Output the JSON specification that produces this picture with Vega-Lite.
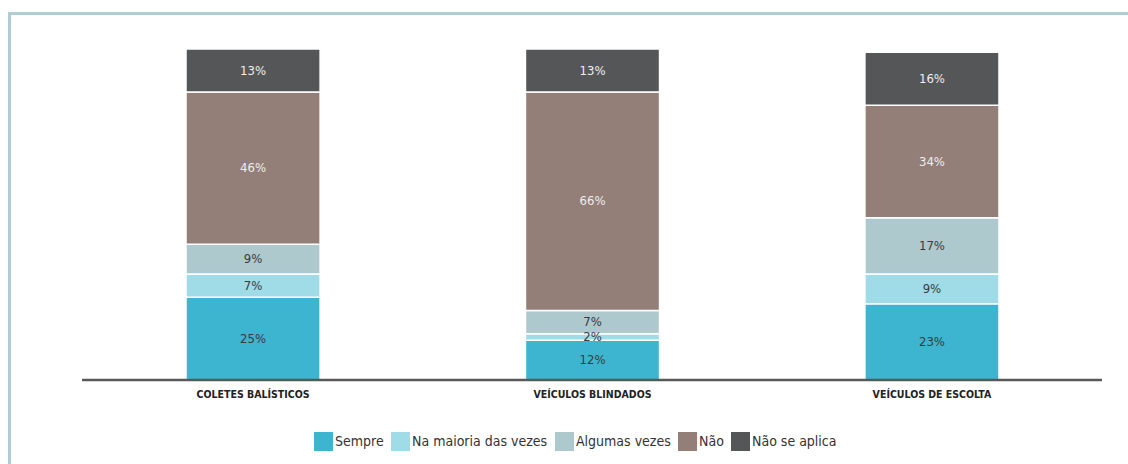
{
  "$schema": "https://vega.github.io/schema/vega-lite/v6.json",
  "width": 1166,
  "height": 466.5,
  "autosize": {"type": "none"},
  "padding": {"left": 9.5, "top": 13.5, "right": 0, "bottom": 0},
  "background": "white",
  "config": {
    "view": {"stroke": "#afcdd2", "strokeWidth": 3},
    "font": "Liberation Sans Narrow, DejaVu Sans Condensed, Roboto, sans-serif"
  },
  "data": {
    "values": [
      {"categoria": "COLETES BALÍSTICOS", "resposta": "Sempre", "k": 1, "valor": 0.25},
      {"categoria": "COLETES BALÍSTICOS", "resposta": "Na maioria das vezes", "k": 2, "valor": 0.07},
      {"categoria": "COLETES BALÍSTICOS", "resposta": "Algumas vezes", "k": 3, "valor": 0.09},
      {"categoria": "COLETES BALÍSTICOS", "resposta": "Não", "k": 4, "valor": 0.46},
      {"categoria": "COLETES BALÍSTICOS", "resposta": "Não se aplica", "k": 5, "valor": 0.13},
      {"categoria": "VEÍCULOS BLINDADOS", "resposta": "Sempre", "k": 1, "valor": 0.12},
      {"categoria": "VEÍCULOS BLINDADOS", "resposta": "Na maioria das vezes", "k": 2, "valor": 0.02},
      {"categoria": "VEÍCULOS BLINDADOS", "resposta": "Algumas vezes", "k": 3, "valor": 0.07},
      {"categoria": "VEÍCULOS BLINDADOS", "resposta": "Não", "k": 4, "valor": 0.66},
      {"categoria": "VEÍCULOS BLINDADOS", "resposta": "Não se aplica", "k": 5, "valor": 0.13},
      {"categoria": "VEÍCULOS DE ESCOLTA", "resposta": "Sempre", "k": 1, "valor": 0.23},
      {"categoria": "VEÍCULOS DE ESCOLTA", "resposta": "Na maioria das vezes", "k": 2, "valor": 0.09},
      {"categoria": "VEÍCULOS DE ESCOLTA", "resposta": "Algumas vezes", "k": 3, "valor": 0.17},
      {"categoria": "VEÍCULOS DE ESCOLTA", "resposta": "Não", "k": 4, "valor": 0.34},
      {"categoria": "VEÍCULOS DE ESCOLTA", "resposta": "Não se aplica", "k": 5, "valor": 0.16}
    ]
  },
  "layer": [
    {
      "transform": [
        {"stack": "valor", "groupby": ["categoria"], "sort": [{"field": "k", "order": "ascending"}], "as": ["v0", "v1"]}
      ],
      "mark": {"type": "bar", "stroke": "white", "strokeWidth": 1.5},
      "encoding": {
        "x": {
          "field": "categoria",
          "type": "nominal",
          "sort": ["COLETES BALÍSTICOS", "VEÍCULOS BLINDADOS", "VEÍCULOS DE ESCOLTA"],
          "scale": {"paddingInner": 0.605, "paddingOuter": 0.52},
          "axis": {
            "title": null,
            "orient": "bottom",
            "offset": -100,
            "domain": false,
            "ticks": false,
            "grid": false,
            "labelAngle": 0,
            "labelPadding": 9,
            "labelFontSize": 10.5,
            "labelFontWeight": "bold",
            "labelColor": "#222222",
            "labelBaseline": "top"
          }
        },
        "y": {
          "field": "v0",
          "type": "quantitative",
          "scale": {"domain": [-0.30211, 1.10726], "nice": false, "zero": false},
          "axis": null
        },
        "y2": {"field": "v1"},
        "color": {
          "field": "resposta",
          "type": "nominal",
          "scale": {
            "domain": ["Sempre", "Na maioria das vezes", "Algumas vezes", "Não", "Não se aplica"],
            "range": ["#3db5d0", "#a0dbe8", "#aec9ce", "#937f78", "#555658"]
          },
          "legend": {
            "title": null,
            "orient": "none",
            "direction": "horizontal",
            "legendX": 304.5,
            "legendY": 418.5,
            "symbolType": "square",
            "symbolSize": 361,
            "symbolStrokeWidth": 0,
            "symbolOpacity": 1,
            "labelFontSize": 14,
            "labelColor": "#333333",
            "labelOffset": 2,
            "columnPadding": 7,
            "padding": 0
          }
        }
      }
    },
    {
      "transform": [
        {"stack": "valor", "groupby": ["categoria"], "sort": [{"field": "k", "order": "ascending"}], "as": ["v0", "v1"]},
        {"fold": ["v0", "v1"], "as": ["lado", "pos"]},
        {"aggregate": [{"op": "mean", "field": "pos", "as": "mid"}], "groupby": ["categoria", "resposta", "valor"]}
      ],
      "mark": {"type": "text", "fontSize": 13, "baseline": "middle", "align": "center"},
      "encoding": {
        "x": {"field": "categoria", "type": "nominal", "sort": ["COLETES BALÍSTICOS", "VEÍCULOS BLINDADOS", "VEÍCULOS DE ESCOLTA"]},
        "y": {"field": "mid", "type": "quantitative"},
        "text": {"field": "valor", "type": "quantitative", "format": ".0%"},
        "color": {
          "condition": {"test": "datum.resposta === 'Não' || datum.resposta === 'Não se aplica'", "value": "#eeeeee"},
          "value": "#3a3a3a"
        }
      }
    },
    {
      "data": {"values": [{}]},
      "mark": {"type": "rule", "strokeWidth": 2.5, "color": "#58585a", "xOffset": -171, "x2Offset": 170},
      "encoding": {
        "x": {"datum": "COLETES BALÍSTICOS", "type": "nominal"},
        "x2": {"datum": "VEÍCULOS DE ESCOLTA"},
        "y": {"datum": 0, "type": "quantitative"}
      }
    }
  ]
}
